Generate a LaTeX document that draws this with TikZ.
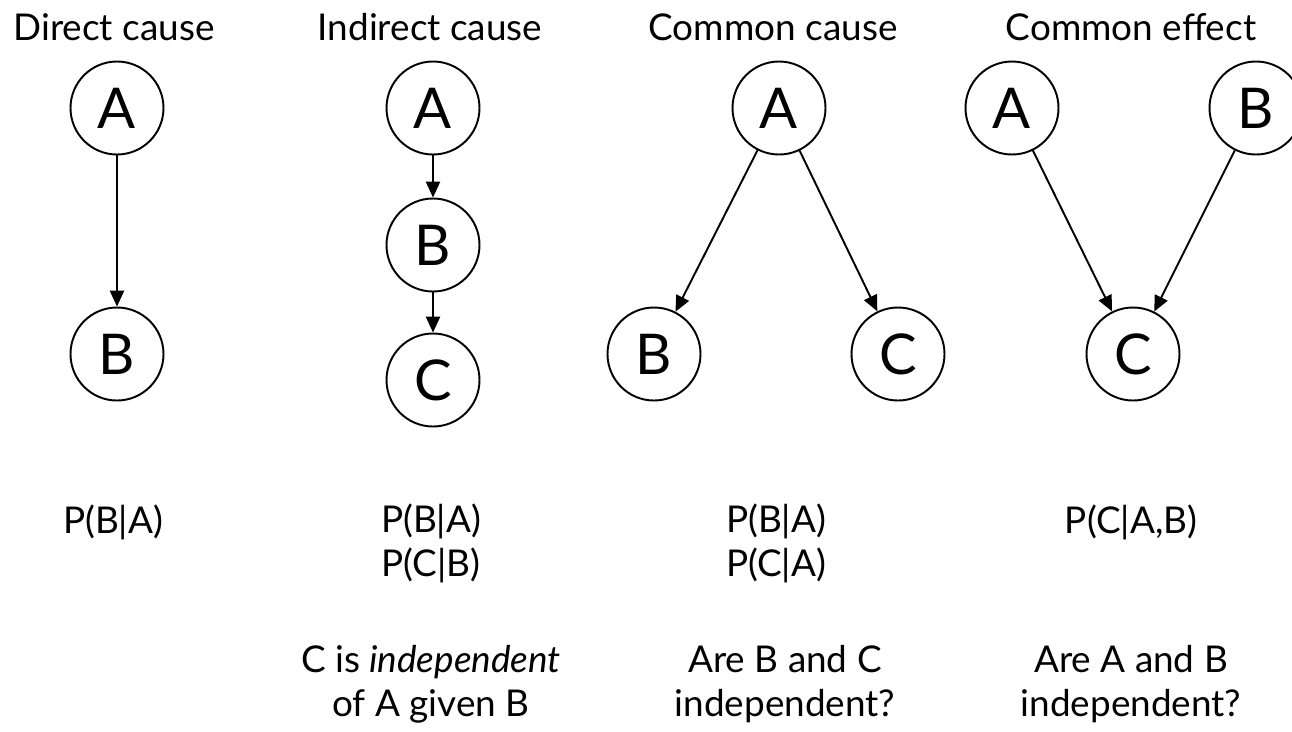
\documentclass[tikz,border=0pt]{standalone}
\usepackage{fontspec}
\setmainfont{Lato}
\usetikzlibrary{arrows.meta}
\begin{document}
\begin{tikzpicture}[x=0.02cm,y=-0.02cm,
  var/.style={circle,draw,line width=1.1pt,minimum size=93*0.02cm,inner sep=0pt,font=\fontsize{32}{32}\selectfont},
  lbl/.style={font=\fontsize{21}{25}\selectfont,align=center},
  arr/.style={line width=1.1pt,-{Triangle[width=8pt,length=9pt]}}]
\useasboundingbox (0,0) rectangle (1292,731);
% titles
\node[lbl] (t1) at (114,27) {Direct cause};
\node[lbl] (t2) at (430,27) {Indirect cause};
\node[lbl] (t3) at (773,27) {Common cause};
\node[lbl] (t4) at (1131,27) {Common effect};
% direct
\node[var] (dA) at (117,108) {A};
\node[var] (dB) at (117,354) {B};
\draw[arr] (dA) -- (dB);
% indirect
\node[var] (iA) at (433,108) {A};
\node[var] (iB) at (433,245) {B};
\node[var] (iC) at (433,380) {C};
\draw[arr] (iA) -- (iB);
\draw[arr] (iB) -- (iC);
% common cause
\node[var] (cA) at (779,108) {A};
\node[var] (cB) at (654,354) {B};
\node[var] (cC) at (898,354) {C};
\draw[arr] (cA) -- (cB);
\draw[arr] (cA) -- (cC);
% common effect
\node[var] (eA) at (1012,108) {A};
\node[var] (eB) at (1256,108) {B};
\node[var] (eC) at (1133,354) {C};
\draw[arr] (eA) -- (eC);
\draw[arr] (eB) -- (eC);
% formulas
\node[lbl] (f1) at (113,522) {P(B|A)};
\node[lbl] (f2) at (431,543) {P(B|A)\\P(C|B)};
\node[lbl] (f3) at (776,543) {P(B|A)\\P(C|A)};
\node[lbl] (f4) at (1131,522) {P(C|A,B)};
% questions
\node[lbl] (q2) at (431,684) {C is \textit{independent}\\of A given B};
\node[lbl] (q3) at (785,684) {Are B and C\\independent?};
\node[lbl] (q4) at (1131,684) {Are A and B\\independent?};
\end{tikzpicture}
\end{document}
